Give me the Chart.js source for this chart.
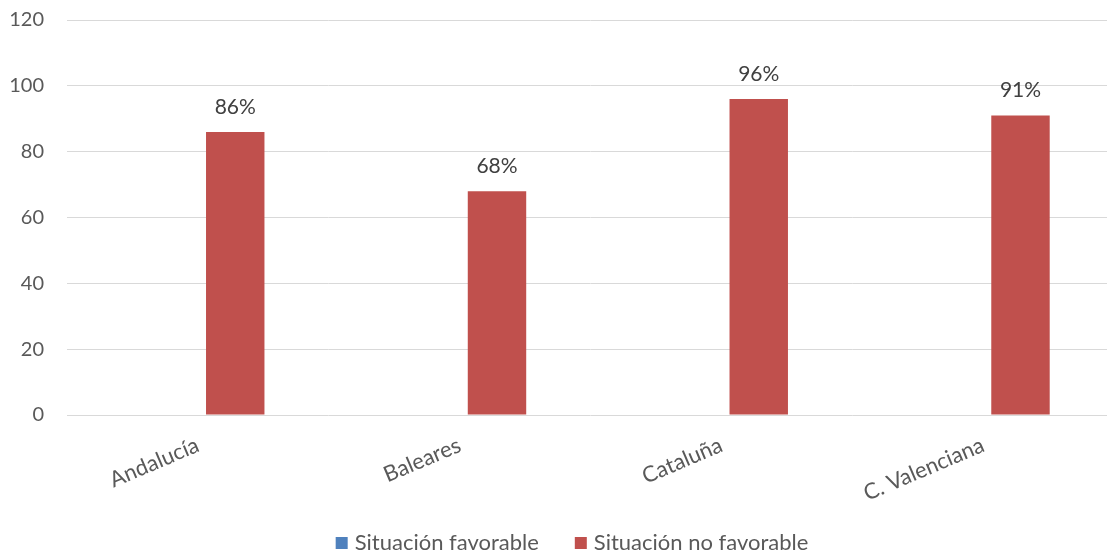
<!DOCTYPE html>
<html>
<head>
<meta charset="utf-8">
<script src="https://cdn.jsdelivr.net/npm/chart.js@4/dist/chart.umd.min.js"></script>
<style>
  html, body { margin: 0; padding: 0; background: #fff; overflow: hidden; }
  #wrap { position: relative; width: 1114px; height: 553px; }
</style>
</head>
<body>
<div id="wrap"><canvas id="c"></canvas></div>
<script>
// Regions and results (percent of cases)
const categories = ['Andalucía', 'Baleares', 'Cataluña', 'C. Valenciana'];
const favorable = [null, null, null, null];
const noFavorable = [86, 68, 96, 91];
const yTicks = [0, 20, 40, 60, 80, 100, 120];
const seriesNames = ['Situación favorable', 'Situación no favorable'];
const seriesColors = ['#4f81bd', '#c0504d'];

const FONT = 'Lato, "Open Sans", sans-serif';

// Percent labels above the "no favorable" bars
const valueLabels = {
  id: 'valueLabels',
  afterDatasetsDraw(chart) {
    const ctx = chart.ctx;
    const meta = chart.getDatasetMeta(1);
    ctx.save();
    ctx.font = '21px ' + FONT;
    ctx.fillStyle = '#404040';
    ctx.textAlign = 'center';
    ctx.textBaseline = 'middle';
    meta.data.forEach((bar, i) => {
      const v = noFavorable[i];
      if (v == null) return;
      ctx.fillText(v + '%', bar.x, bar.y - 25);
    });
    ctx.restore();
  }
};

// Legend row under the axis: square swatch + series name, centred
const bottomLegend = {
  id: 'bottomLegend',
  afterDraw(chart) {
    const ctx = chart.ctx;
    const box = 12, gapText = 7, gapItem = 36;
    const centerX = 572, midY = 543;
    ctx.save();
    ctx.font = '22px ' + FONT;
    ctx.textBaseline = 'middle';
    ctx.textAlign = 'left';
    const items = chart.data.datasets.map(ds => ({
      label: ds.label, color: ds.backgroundColor,
      w: box + gapText + ctx.measureText(ds.label).width
    }));
    const total = items.reduce((s, it) => s + it.w, 0) + gapItem * (items.length - 1);
    let x = centerX - total / 2;
    items.forEach(it => {
      ctx.fillStyle = it.color;
      ctx.fillRect(x, midY - box / 2, box, box);
      ctx.fillStyle = '#595959';
      ctx.fillText(it.label, x + box + gapText, midY);
      x += it.w + gapItem;
    });
    ctx.restore();
  }
};

new Chart(document.getElementById('c'), {
  type: 'bar',
  data: {
    labels: categories,
    datasets: [
      { label: seriesNames[0], data: favorable, backgroundColor: seriesColors[0],
        categoryPercentage: 0.571, barPercentage: 0.782 },
      { label: seriesNames[1], data: noFavorable, backgroundColor: seriesColors[1],
        categoryPercentage: 0.571, barPercentage: 0.782 }
    ]
  },
  options: {
    responsive: true,
    maintainAspectRatio: false,
    animation: false,
    layout: { padding: { top: 20, left: 0, right: 0, bottom: 43 } },
    plugins: {
      legend: { display: false },
      tooltip: { enabled: false }
    },
    scales: {
      x: {
        grid: { display: false },
        border: { display: false },
        ticks: {
          autoSkip: false,
          minRotation: 23,
          maxRotation: 23,
          padding: 9,
          color: '#595959',
          font: { family: FONT, size: 22 }
        },
        afterFit(scale) { scale.height = 95; }
      },
      y: {
        min: yTicks[0],
        max: yTicks[yTicks.length - 1],
        afterBuildTicks(scale) { scale.ticks = yTicks.map(v => ({ value: v })); },
        grid: { color: '#d9d9d9', lineWidth: 1, drawTicks: false },
        border: { display: false },
        ticks: {
          padding: 23,
          color: '#595959',
          font: { family: FONT, size: 20 }
        },
        afterFit(scale) {
          scale.width = 67;
          scale.paddingTop = 0;
          scale.paddingBottom = 0;
        }
      }
    }
  },
  plugins: [valueLabels, bottomLegend]
});
</script>
</body>
</html>
